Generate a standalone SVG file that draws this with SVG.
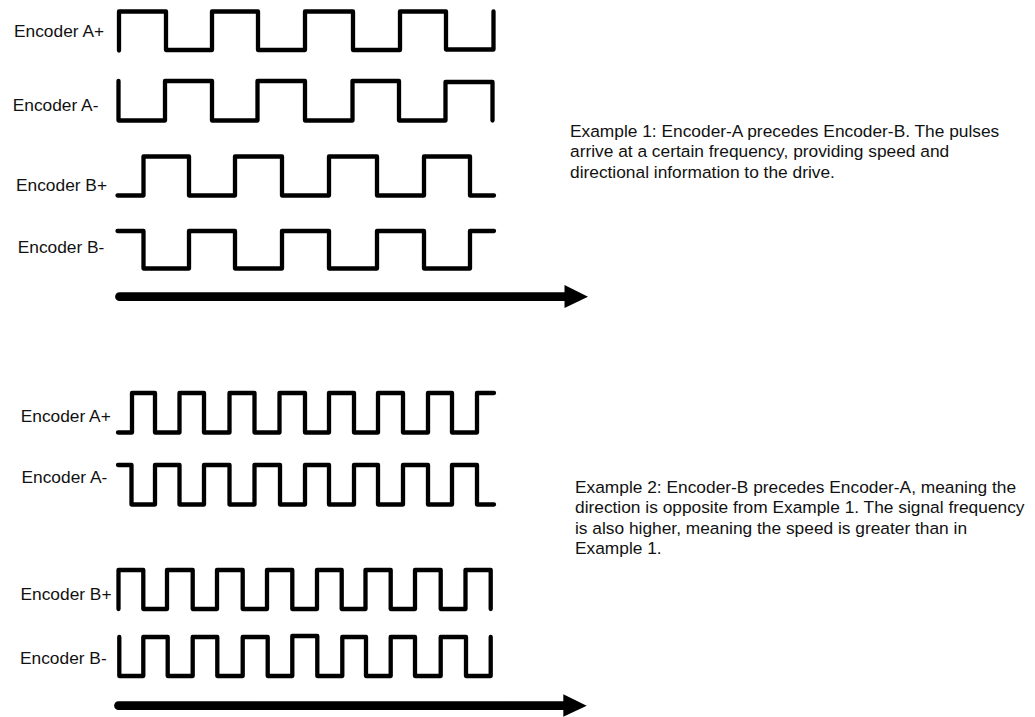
<svg xmlns="http://www.w3.org/2000/svg" width="1035" height="717" viewBox="0 0 1035 717">
<style>
text{font-family:"Liberation Sans",Arial,sans-serif;font-size:17.33px;fill:#111}
.w{fill:none;stroke:#000;stroke-width:4.3;stroke-linecap:round;stroke-linejoin:round}
.a{stroke:#000;stroke-width:8.700;stroke-linecap:round;fill:none}
</style>
<rect width="1035" height="717" fill="#fff"/>
<g id="connectors">
<path id="w1" class="w" d="M119 50.500V11.500H166V50H212V11.500H258V50H305V11.500H353V50H400V11.500H446V49.500H493.500V11.500"/>
<path id="w2" class="w" d="M118.500 81V120.500H165V81H212V120.500H257.500V81H305V120.500H352.500V81H399V120.500H445.500V82H492.500V120.500"/>
<path id="w3" class="w" d="M117.500 195.500H143.500V156.500H189V195.500H235V156.500H282V195.500H329V156.500H377V195.500H424V156.500H470V195.500H494"/>
<path id="w4" class="w" d="M117.500 231H143.500V268.500H189V231H235V268.500H282V231H329V268.500H377V231H424V268.500H470V231H494"/>
<path id="arrow1" class="a" d="M119.500 296.700H566"/>
<path d="M564.500 285L588 296.700L564.500 308Z"/>
<path id="w5" class="w" d="M118 432.500H132V393H155V432.500H179.500V393H204V432.500H229.500V393H254.500V432.500H279.500V393H305V432.500H329V393H354V432.500H378V393H403V432.500H428V393H452V432.500H477V393H494"/>
<path id="w6" class="w" d="M118 465H131.500V504.500H155V465H179.500V504.500H204V465H229.500V504.500H254.500V465H280V504.500H305V465H329V504.500H354V465H378V504.500H403V465H428V504.500H452V465H477V504.500H494"/>
<path id="w7" class="w" d="M118.500 609V570H143.300V609H167V570H192.700V609H217V570H242.700V609H267V570H292.300V609H317V570H341.700V609H365.500V570H390.700V609H415V570H440.700V609H465.500V570H490.700V609"/>
<path id="w8" class="w" d="M119.300 637V676H143.300V637H167.700V676H192.700V637H217.300V676H242.700V637H267.700V676H292.300V636H317.300V676H342.300V637H366V676H390.700V637H415V676H440.700V637H466V676H490.700V637"/>
<path id="arrow2" class="a" d="M118.500 705.700H565"/>
<path d="M563.300 694.300L586.700 705.700L563.300 716.700Z"/>
</g>
<g id="labels">
<text x="14" y="36.700">Encoder A+</text>
<text x="12.700" y="111">Encoder A-</text>
<text x="16" y="190.700">Encoder B+</text>
<text x="17.700" y="252.700">Encoder B-</text>
<text x="20.700" y="421.700">Encoder A+</text>
<text x="21.500" y="482.700">Encoder A-</text>
<text x="20.500" y="600">Encoder B+</text>
<text x="20" y="664">Encoder B-</text>
</g>
<g id="notes">
<text x="570" y="136.700">Example 1: Encoder-A precedes Encoder-B. The pulses</text>
<text x="570" y="157.300">arrive at a certain frequency, providing speed and</text>
<text x="570" y="177.700">directional information to the drive.</text>
<text x="575" y="492.700">Example 2: Encoder-B precedes Encoder-A, meaning the</text>
<text x="575" y="513.300">direction is opposite from Example 1. The signal frequency</text>
<text x="575" y="534">is also higher, meaning the speed is greater than in</text>
<text x="575" y="554.300">Example 1.</text>
</g>
</svg>
